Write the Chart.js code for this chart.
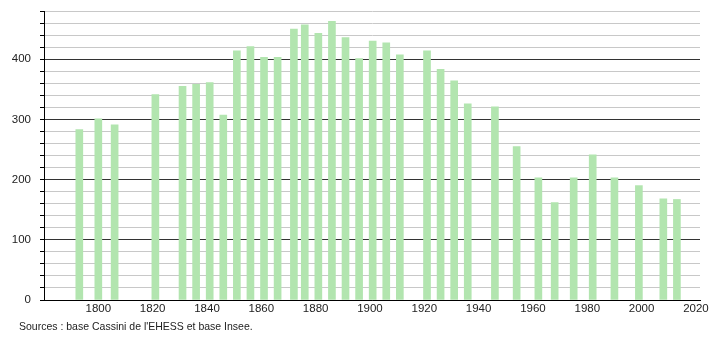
<!DOCTYPE html>
<html>
<head>
<meta charset="utf-8">
<script src="https://cdn.jsdelivr.net/npm/chart.js@4"></script>
<style>
  body { margin: 0; background: #fff; }
  #wrap { position: relative; width: 710px; height: 340px; }
  #source { position: absolute; left: 19px; top: 320px; font: 10.5px "Liberation Sans Narrow", "Liberation Sans", Arial, sans-serif; color: #222; }
</style>
</head>
<body>
<div id="wrap">
  <canvas id="pop" width="710" height="340"></canvas>
  <div id="source">Sources : base Cassini de l'EHESS et base Insee.</div>
</div>
<script>
//census years and population
const years = [1793, 1800, 1806, 1821, 1831, 1836, 1841, 1846, 1851, 1856, 1861, 1866, 1872, 1876, 1881, 1886, 1891, 1896, 1901, 1906, 1911, 1921, 1926, 1931, 1936, 1946, 1954, 1962, 1968, 1975, 1982, 1990, 1999, 2008, 2013];
const population = [283, 301, 291, 341, 355, 358, 361, 307, 414, 421, 403, 403, 450, 457, 443, 463, 436, 401, 430, 427, 407, 414, 383, 364, 326, 321, 255, 203, 162, 203, 241, 203, 190, 168, 167];
const xTickLabels = [1800, 1820, 1840, 1860, 1880, 1900, 1920, 1940, 1960, 1980, 2000, 2020];
const yTickLabels = [0, 100, 200, 300, 400];

const tickFont = { family: '"Liberation Sans Narrow", "Liberation Sans", Arial, sans-serif', size: 11.5 };

var ctx = document.getElementById('pop').getContext('2d');
var popChart = new Chart(ctx, {
    type: 'bar',
    data: {
        datasets: [{
            data: years.map((y, i) => ({ x: y, y: population[i] })),
            backgroundColor: 'rgb(178, 229, 175)',
            borderWidth: 0,
            barThickness: 7
        }]
    },
    options: {
        responsive: false,
        animation: false,
        layout: { padding: { top: 11, right: 10, left: 0, bottom: 0 } },
        plugins: { legend: { display: false }, tooltip: { enabled: false } },
        scales: {
            x: {
                type: 'linear',
                offset: false,
                min: 1780,
                max: 2021.5,
                afterFit: s => { s.height = 40; s.paddingLeft = 0; s.paddingRight = 0; },
                ticks: {
                    stepSize: 20,
                    includeBounds: false,
                    autoSkip: false,
                    maxRotation: 0,
                    padding: 2,
                    color: '#222',
                    font: tickFont,
                    callback: v => xTickLabels.includes(v) ? String(v) : ''
                },
                grid: { offset: false, drawOnChartArea: false, drawTicks: false },
                border: { color: '#000', width: 1 }
            },
            y: {
                min: 0,
                max: 480,
                afterFit: s => { s.width = 44; s.paddingTop = 0; s.paddingBottom = 0; },
                ticks: {
                    stepSize: 20,
                    autoSkip: false,
                    padding: 9,
                    color: '#222',
                    font: tickFont,
                    callback: v => yTickLabels.includes(v) ? String(v) : ''
                },
                grid: {
                    color: c => c.tick.value % 100 === 0 ? '#333' : '#c8c8c8',
                    tickColor: '#000',
                    tickLength: 4
                },
                border: { color: '#000', width: 1 }
            }
        }
    }
});
</script>
</body>
</html>
